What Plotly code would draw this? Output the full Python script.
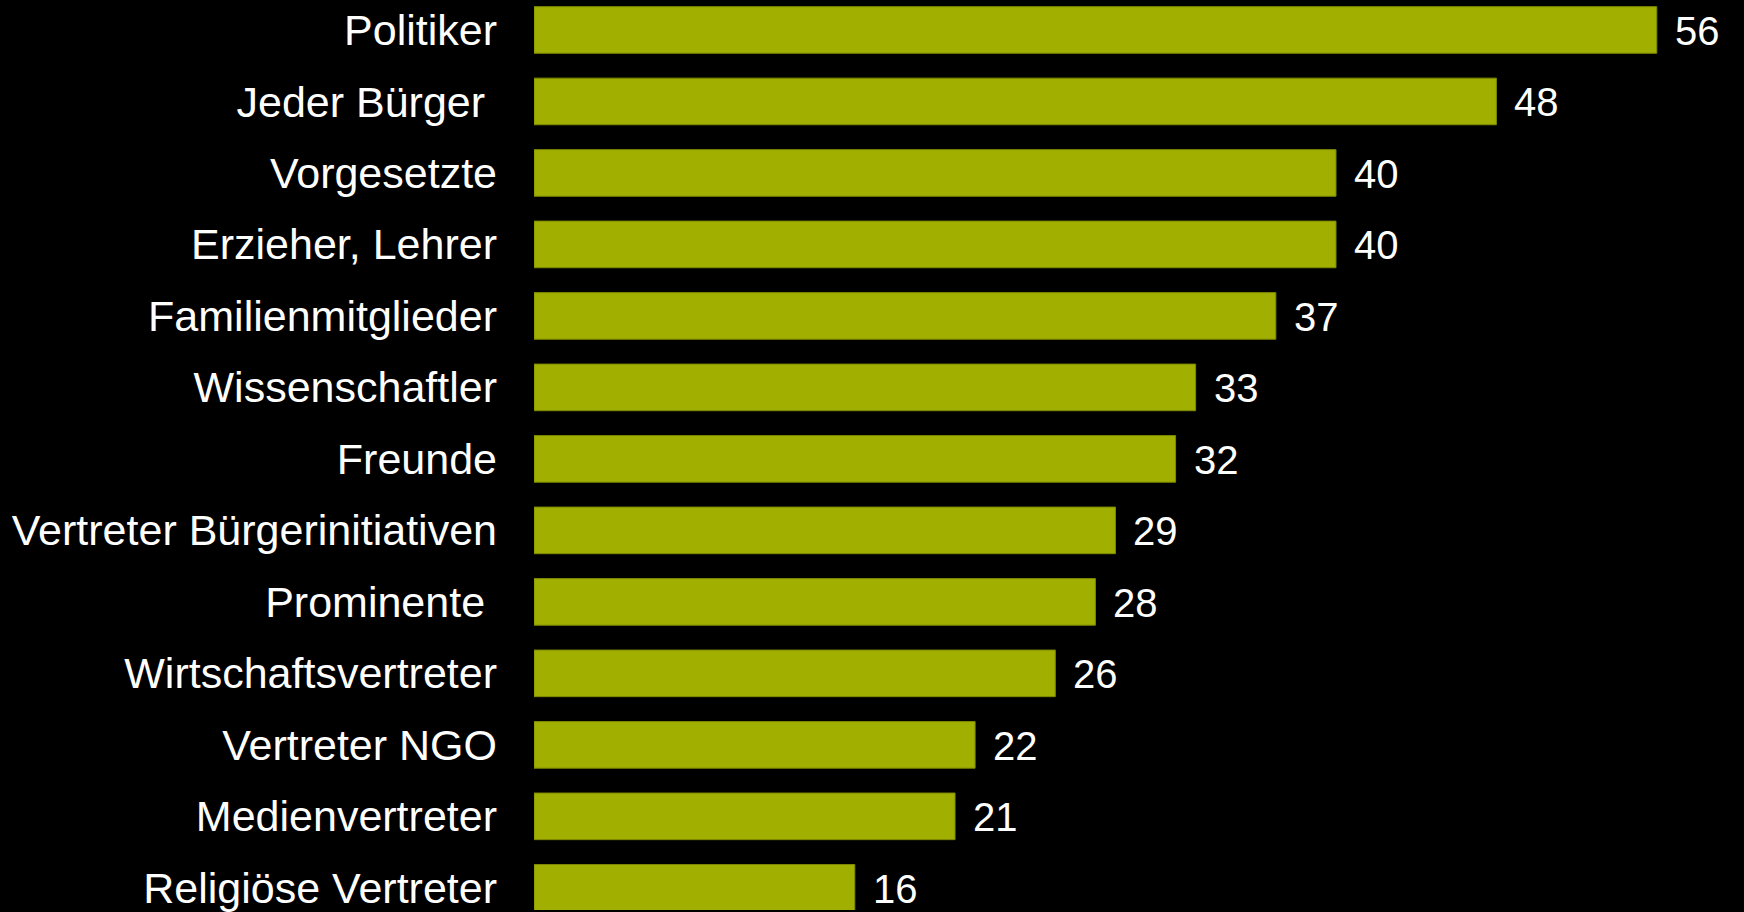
import plotly.graph_objects as go

# Categories (top to bottom) and their values
categories = [
    "Politiker",
    "Jeder Bürger\u00a0",
    "Vorgesetzte",
    "Erzieher, Lehrer",
    "Familienmitglieder",
    "Wissenschaftler",
    "Freunde",
    "Vertreter Bürgerinitiativen",
    "Prominente\u00a0",
    "Wirtschaftsvertreter",
    "Vertreter NGO",
    "Medienvertreter",
    "Religiöse Vertreter",
]
values = [56, 48, 40, 40, 37, 33, 32, 29, 28, 26, 22, 21, 16]

BAR_COLOR = "#A0AF00"
FONT = "Liberation Sans, Arial, sans-serif"

fig = go.Figure()
fig.add_trace(
    go.Bar(
        x=values,
        y=categories,
        orientation="h",
        width=0.652,
        marker=dict(color=BAR_COLOR, line=dict(color="#7E8A00", width=1)),
        hoverinfo="x+y",
    )
)

# Value labels placed just right of each bar end
for cat, val in zip(categories, values):
    fig.add_annotation(
        x=val, y=cat, text=str(val),
        xref="x", yref="y",
        xanchor="left", yanchor="middle",
        xshift=16, yshift=-1,
        showarrow=False,
        font=dict(family=FONT, size=40, color="white"),
    )

fig.update_layout(
    width=1744, height=912,
    paper_bgcolor="black", plot_bgcolor="black",
    margin=dict(l=534, r=0, t=0, b=0),
    showlegend=False,
    bargap=0.35,
)
fig.update_xaxes(
    range=[0, 60.35], visible=False, showgrid=False, zeroline=False,
)
fig.update_yaxes(
    type="category",
    range=[12.31, -0.419],
    showgrid=False, zeroline=False, showline=False,
    ticks="", ticklabelstandoff=36,
    tickfont=dict(family=FONT, size=43, color="white"),
)

fig.write_html("out.html")
